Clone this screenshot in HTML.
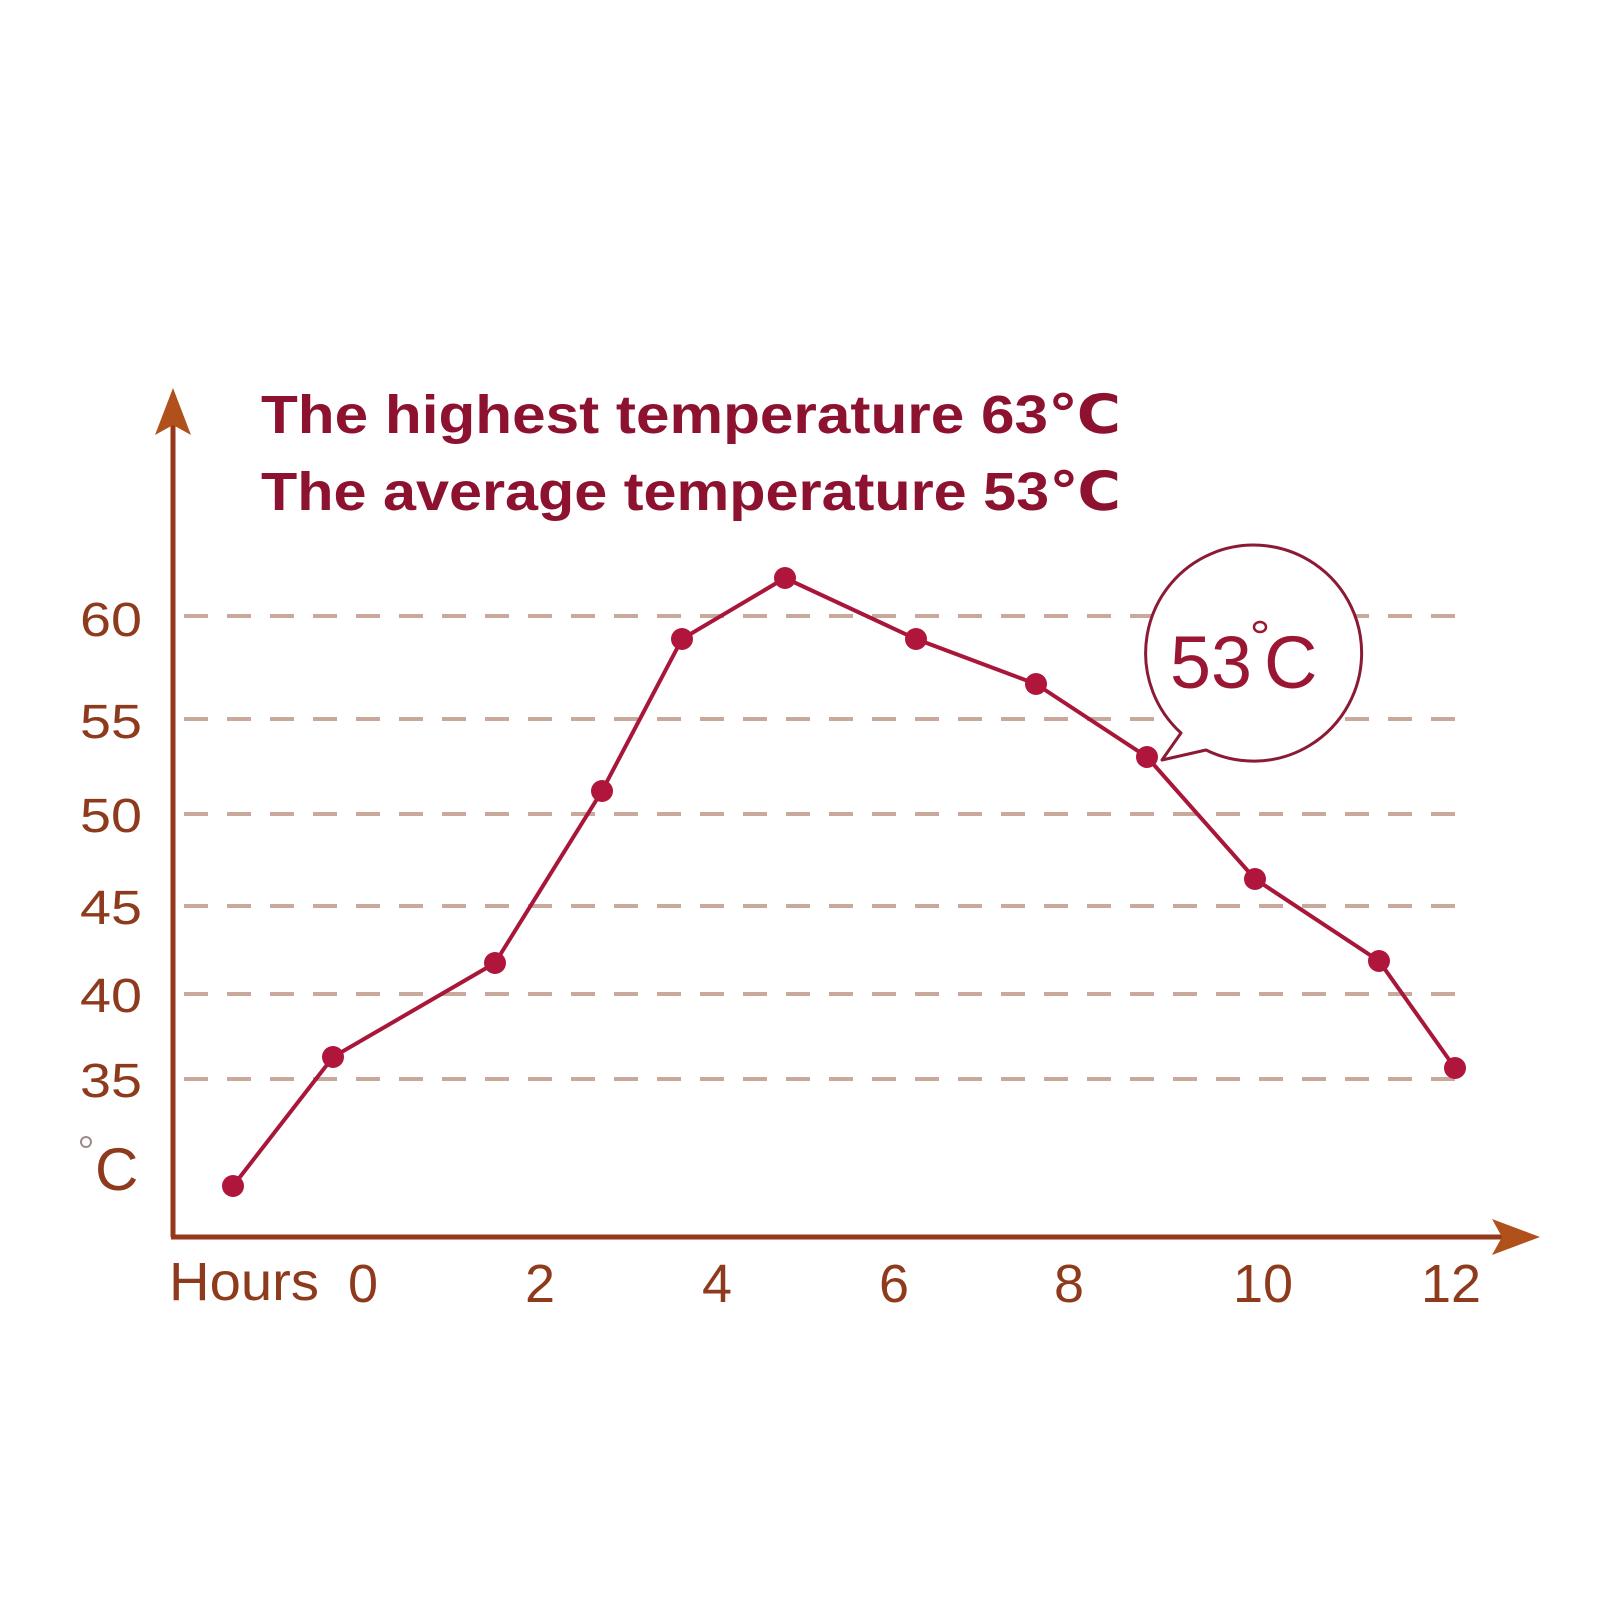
<!DOCTYPE html>
<html><head><style>html,body{margin:0;padding:0;background:#fff;}</style></head>
<body>
<svg width="1600" height="1600" xmlns="http://www.w3.org/2000/svg">
<rect width="1600" height="1600" fill="#fff"/>
<g stroke="#c9a99c" stroke-width="4" stroke-dasharray="24,19">
<line x1="184" y1="616" x2="1455" y2="616"/>
<line x1="184" y1="719" x2="1455" y2="719"/>
<line x1="184" y1="814" x2="1455" y2="814"/>
<line x1="184" y1="906" x2="1455" y2="906"/>
<line x1="184" y1="994" x2="1455" y2="994"/>
<line x1="184" y1="1079" x2="1455" y2="1079"/>
</g>
<g stroke="#96381c" stroke-width="5" fill="none">
<line x1="173" y1="400" x2="173" y2="1237"/>
<line x1="171" y1="1237" x2="1520" y2="1237"/>
</g>
<polygon points="173,388 155,435 173,425 191,435" fill="#b0511b"/>
<polygon points="1540,1237 1492,1219 1502,1237 1492,1255" fill="#b0511b"/>
<g font-family="Liberation Sans, DejaVu Sans, sans-serif" font-weight="bold" fill="#8c1230" font-size="54">
<text x="261" y="433" textLength="860" lengthAdjust="spacingAndGlyphs">The highest temperature 63℃</text>
<text x="261" y="510" textLength="860" lengthAdjust="spacingAndGlyphs">The average temperature  53℃</text>
</g>
<g font-family="Liberation Sans, DejaVu Sans, sans-serif" fill="#8e3a1c" font-size="48">
<text x="80" y="636" textLength="62" lengthAdjust="spacingAndGlyphs">60</text>
<text x="80" y="738" textLength="62" lengthAdjust="spacingAndGlyphs">55</text>
<text x="80" y="832" textLength="62" lengthAdjust="spacingAndGlyphs">50</text>
<text x="80" y="924" textLength="62" lengthAdjust="spacingAndGlyphs">45</text>
<text x="80" y="1012" textLength="62" lengthAdjust="spacingAndGlyphs">40</text>
<text x="80" y="1097" textLength="62" lengthAdjust="spacingAndGlyphs">35</text>
<text x="95" y="1190" font-size="60">C</text>
</g>
<circle cx="86" cy="1142" r="5" fill="none" stroke="#9a8a8a" stroke-width="2"/>
<g font-family="Liberation Sans, DejaVu Sans, sans-serif" fill="#8e3a1c" font-size="54" text-anchor="middle">
<text x="244" y="1300" textLength="150" lengthAdjust="spacingAndGlyphs">Hours</text>
<text x="363" y="1302">0</text>
<text x="540" y="1302">2</text>
<text x="717" y="1302">4</text>
<text x="894" y="1302">6</text>
<text x="1069" y="1302">8</text>
<text x="1263" y="1302">10</text>
<text x="1451" y="1302">12</text>
</g>
<polyline fill="none" stroke="#a8163a" stroke-width="4" points="233,1186 333,1057 495,963 602,791 682,639 785,578 916,639 1036,684 1147,757 1255,879 1379,961 1455,1068"/>
<g fill="#b0163c">
<circle cx="233" cy="1186" r="11"/><circle cx="333" cy="1057" r="11"/><circle cx="495" cy="963" r="11"/><circle cx="602" cy="791" r="11"/><circle cx="682" cy="639" r="11"/><circle cx="785" cy="578" r="11"/><circle cx="916" cy="639" r="11"/><circle cx="1036" cy="684" r="11"/><circle cx="1147" cy="757" r="11"/><circle cx="1255" cy="879" r="11"/><circle cx="1379" cy="961" r="11"/><circle cx="1455" cy="1068" r="11"/>
</g>
<path d="M1181,733 A108,108 0 1 1 1206,750 L1162,760 Z" fill="#fff" stroke="#8c1a35" stroke-width="3" stroke-linejoin="round"/>
<g font-family="Liberation Sans, DejaVu Sans, sans-serif" fill="#9a1632" font-size="74">
<text x="1170" y="688" textLength="82" lengthAdjust="spacingAndGlyphs">53</text>
<text x="1264" y="688">C</text>
</g>
<ellipse cx="1260" cy="627" rx="6" ry="5" fill="none" stroke="#9a1632" stroke-width="2.5"/>
</svg>
</body></html>
